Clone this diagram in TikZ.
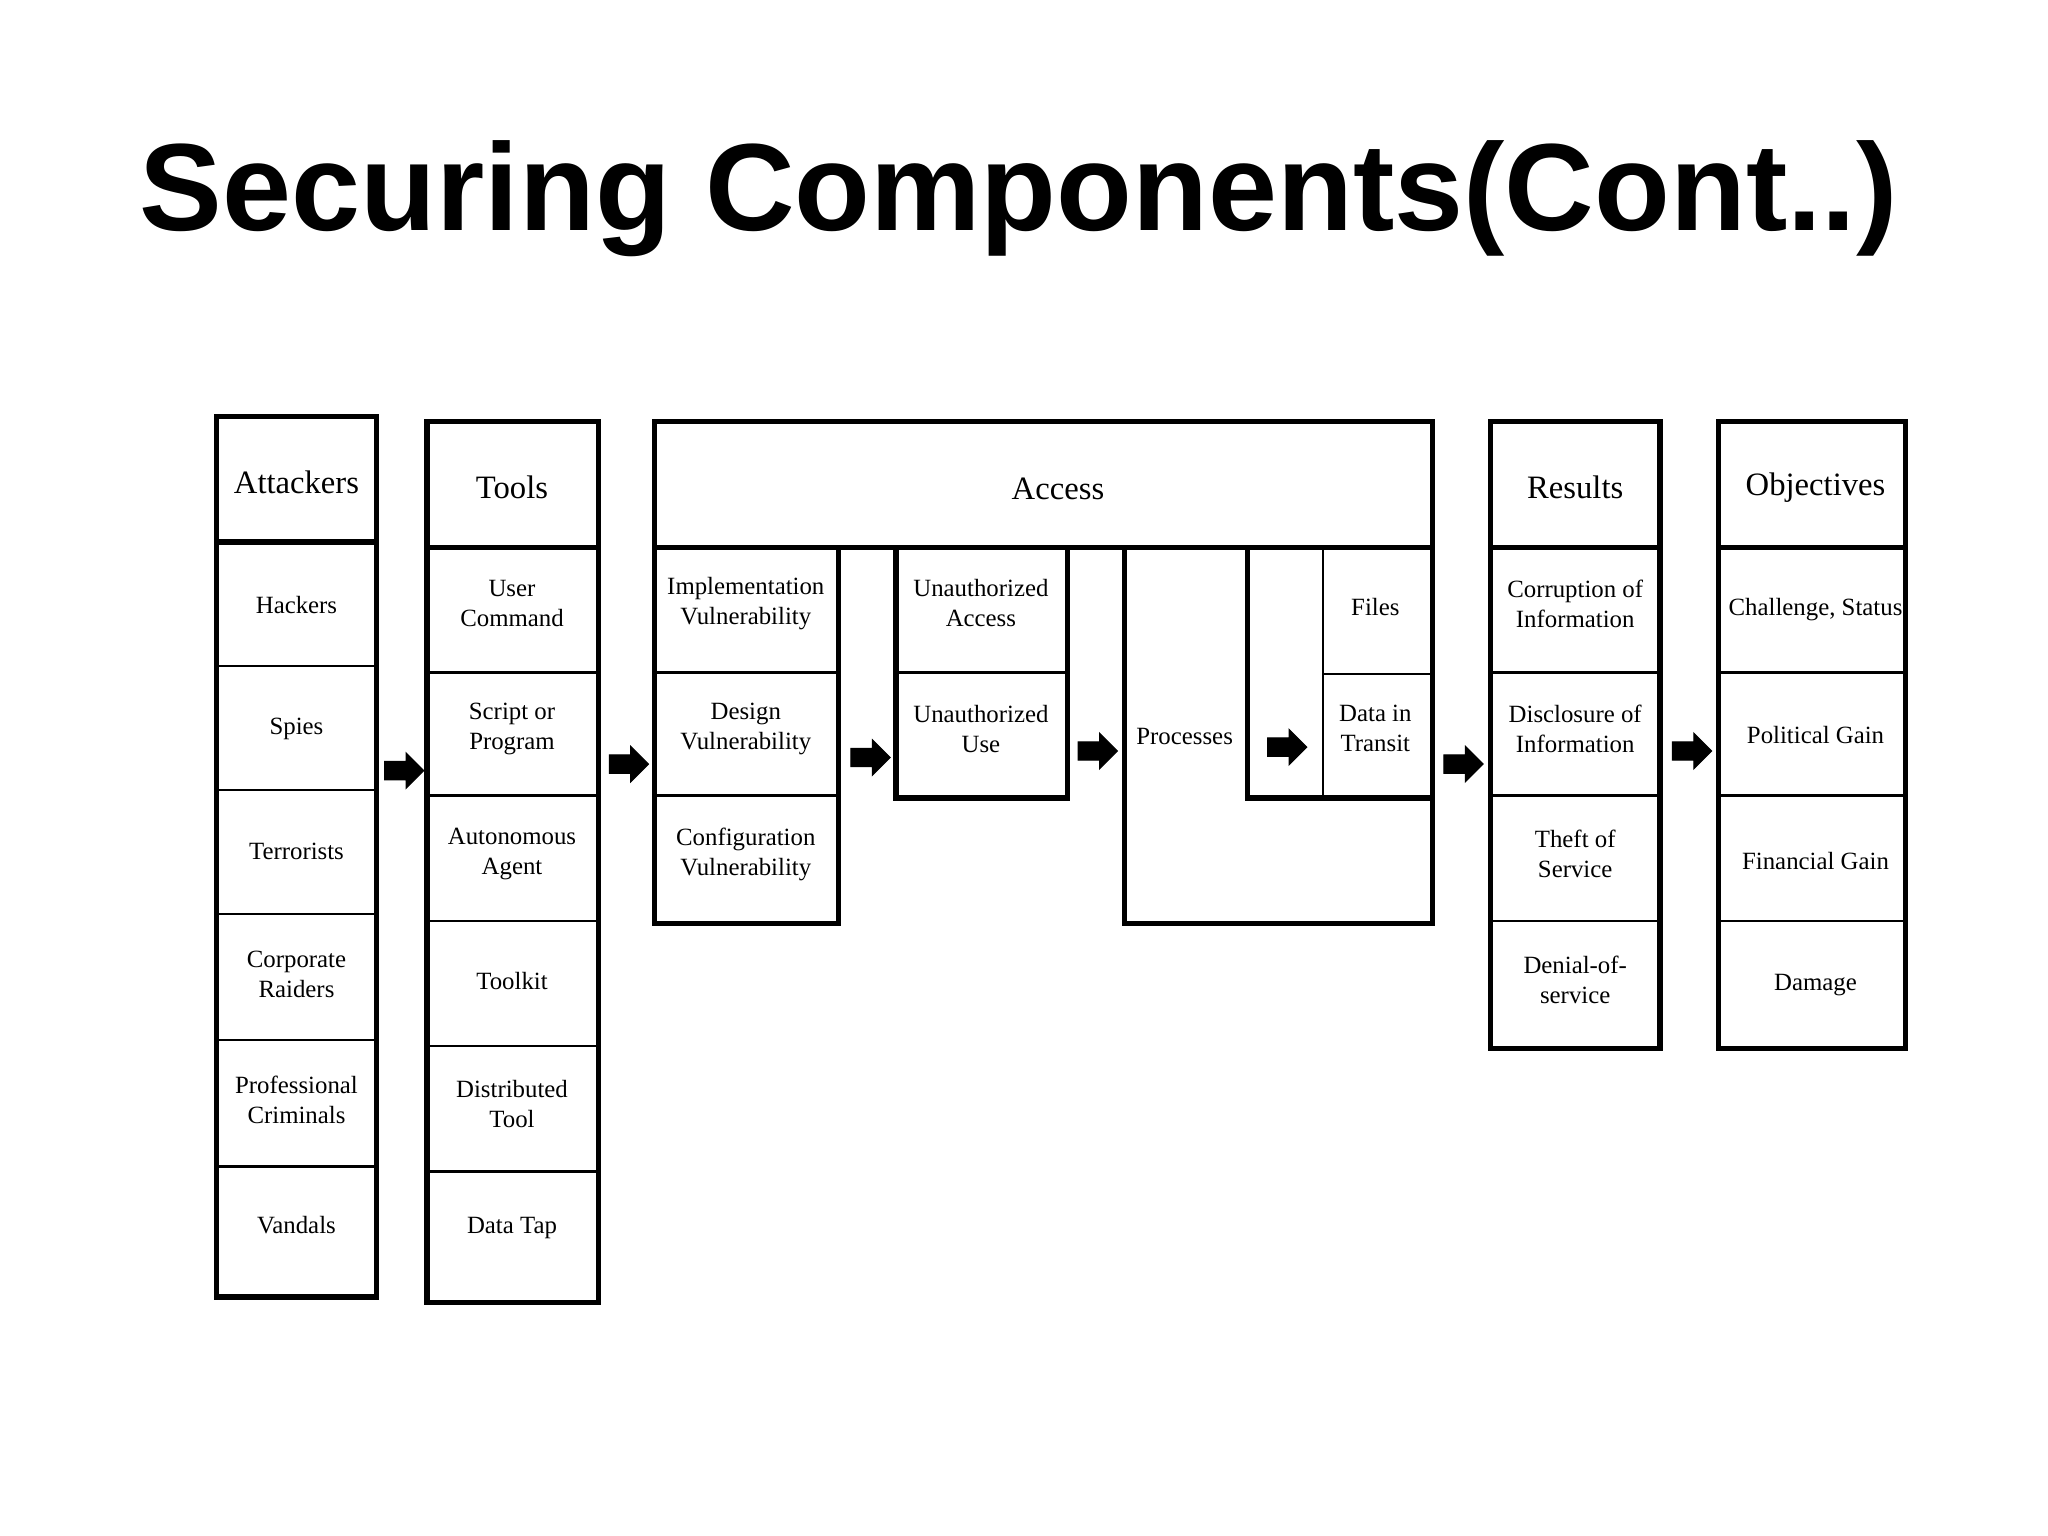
\documentclass[tikz,border=0pt]{standalone}
\usepackage{fontspec}
\setmainfont{Liberation Serif}
\newfontfamily\titlefont{Liberation Sans}
\usetikzlibrary{shapes.arrows}
\begin{document}
\begin{tikzpicture}[x=0.5pt,y=-0.5pt,
  outer/.style={line width=2pt},
  inner/.style={line width=0.9pt},
  cell/.style={font=\fontsize{9.5}{11.5}\selectfont,align=center,inner sep=0pt},
  head/.style={font=\fontsize{12.5}{15}\selectfont,align=center,inner sep=0pt},
  blk/.style={single arrow,fill=black,draw=black,line width=0.4pt,minimum height=15pt,inner sep=3.3pt,single arrow head extend=3.3pt}]
\useasboundingbox (0,0) rectangle (1568,1176);
\node[font=\titlefont\bfseries\fontsize{47.5}{56}\selectfont] (title) at (780,152) {Securing Components(Cont..)};
\newcommand{\mkcol}[5]{%
  \draw[outer] (#1,#4) rectangle (#2,#5);
  \foreach \yy in {#3} {\draw[inner] (#1,\yy) -- (#2,\yy);}
}
% Attackers
\mkcol{166}{288}{510,605,700,796,893}{319}{993}
\draw[outer] (166,415) -- (288,415);
\node[head] (att) at (227,369) {Attackers};
\node[cell] (a1) at (227,463) {Hackers};
\node[cell] (a2) at (227,558) {Spies};
\node[cell] (a3) at (227,652) {Terrorists};
\node[cell] (a4) at (227,746) {Corporate\\Raiders};
\node[cell] (a5) at (227,842) {Professional\\Criminals};
\node[cell] (a6) at (227,938) {Vandals};
% Tools
\mkcol{327}{458}{515,609,705,801,897}{323}{997}
\draw[outer] (327,419) -- (458,419);
\node[head] (tools) at (392,373) {Tools};
\node[cell] (t1) at (392,462) {User\\Command};
\node[cell] (t2) at (392,558) {Script or\\Program};
\node[cell] (t3) at (392,654) {Autonomous\\Agent};
\node[cell] (t4) at (392,751) {Toolkit};
\node[cell] (t5) at (392,845) {Distributed\\Tool};
\node[cell] (t6) at (392,940) {Data Tap};
% Access
\draw[outer] (501,323) rectangle (1097,419);
\node[head] (acc) at (810,374) {Access};
\draw[outer] (501,419) rectangle (642,707);
\draw[inner] (501,515) -- (642,515) (501,609) -- (642,609);
\node[cell] (c1) at (571,462) {Implementation\\Vulnerability};
\node[cell] (c2) at (571,558) {Design\\Vulnerability};
\node[cell] (c3) at (571,654) {Configuration\\Vulnerability};
\draw[outer] (686,419) rectangle (817,611);
\draw[inner] (686,515) -- (817,515);
\node[cell] (u1) at (751,462) {Unauthorized\\Access};
\node[cell] (u2) at (751,558) {Unauthorized\\Use};
\draw[outer] (861,419) rectangle (1097,707);
\node[cell] (proc) at (907,564) {Processes};
\draw[outer] (955,419) -- (955,611) -- (1097,611);
\draw[inner] (1013,419) -- (1013,611) (1013,516) -- (1097,516);
\node[cell] (files) at (1053,465) {Files};
\node[cell] (dit) at (1053,558) {Data in\\Transit};
% Results
\mkcol{1141}{1271}{515,609,705}{323}{803}
\draw[outer] (1141,419) -- (1271,419);
\node[head] (res) at (1206,373) {Results};
\node[cell] (r1) at (1206,462) {Corruption of\\Information};
\node[cell] (r2) at (1206,558) {Disclosure of\\Information};
\node[cell] (r3) at (1206,654) {Theft of\\Service};
\node[cell] (r4) at (1206,750) {Denial-of-\\service};
% Objectives
\mkcol{1316}{1459}{515,609,705}{323}{803}
\draw[outer] (1316,419) -- (1459,419);
\node[head] (obj) at (1390,373) {Objectives};
\node[cell] (o1) at (1390,467) {Challenge, Status};
\node[cell] (o2) at (1390,563) {Political Gain};
\node[cell] (o3) at (1390,659) {Financial Gain};
\node[cell] (o4) at (1390,754) {Damage};
% arrows
\node[blk] (ar1) at (306,590) {};
\node[blk] (ar2) at (478,585) {};
\node[blk] (ar3) at (663,580) {};
\node[blk] (ar4) at (837,575) {};
\node[blk] (ar5) at (982,572) {};
\node[blk] (ar6) at (1117,585) {};
\node[blk] (ar7) at (1292,575) {};
\end{tikzpicture}
\end{document}
